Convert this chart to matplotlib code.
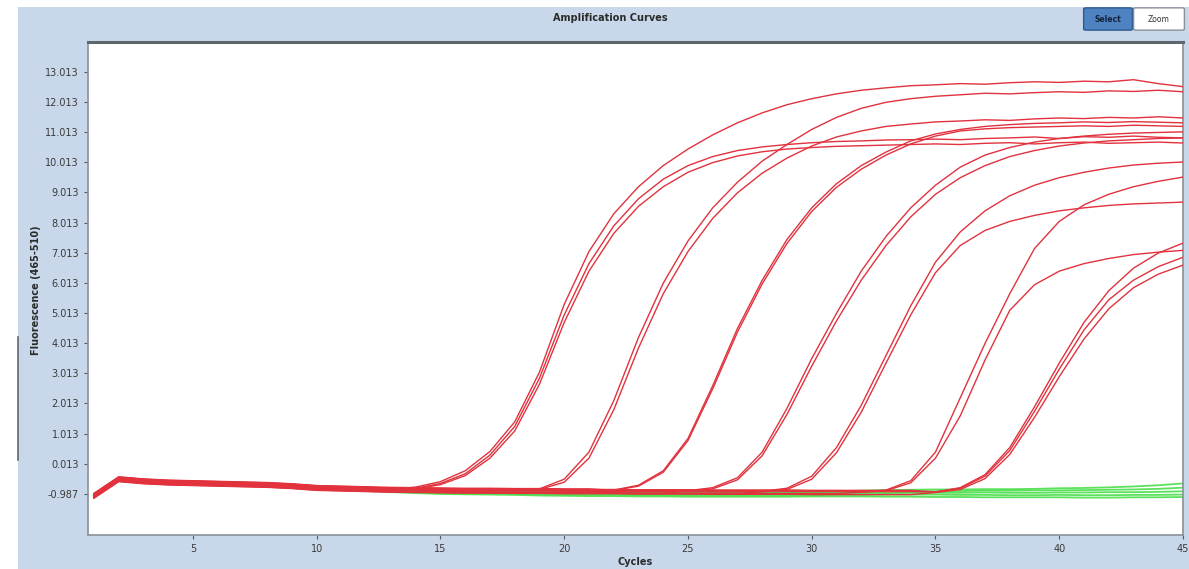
import matplotlib.pyplot as plt
import numpy as np
from matplotlib.patches import Rectangle, FancyBboxPatch
from matplotlib.lines import Line2D

cycles = np.arange(1, 46)

# shared red baseline (cycles 1..45), used before each well starts to rise
base_red = [-1.05, -0.50, -0.57, -0.61, -0.63, -0.65, -0.67, -0.69, -0.73, -0.79,
            -0.81, -0.83, -0.85, -0.86, -0.87, -0.88, -0.88, -0.89, -0.89, -0.90,
            -0.90, -0.90, -0.91, -0.91, -0.91, -0.92, -0.92, -0.92, -0.92, -0.93,
            -0.93, -0.93, -0.93, -0.93, -0.94, -0.94, -0.94, -0.94, -0.95, -0.95,
            -0.95, -0.95, -0.95, -0.96, -0.96]

# negative wells (green)
green1 = [-1.04, -0.50, -0.57, -0.61, -0.63, -0.65, -0.67, -0.70, -0.74, -0.78,
          -0.80, -0.83, -0.86, -0.88, -0.90, -0.90, -0.91, -0.92, -0.92, -0.93,
          -0.93, -0.94, -0.94, -0.95, -0.95, -0.95, -0.96, -0.95, -0.94, -0.93,
          -0.90, -0.88, -0.86, -0.85, -0.84, -0.84, -0.83, -0.83, -0.82, -0.80,
          -0.79, -0.77, -0.74, -0.70, -0.64]
green2 = [-1.05, -0.51, -0.58, -0.62, -0.64, -0.66, -0.68, -0.71, -0.75, -0.79,
          -0.81, -0.84, -0.87, -0.89, -0.91, -0.92, -0.93, -0.94, -0.95, -0.95,
          -0.96, -0.96, -0.97, -0.97, -0.97, -0.97, -0.96, -0.96, -0.95, -0.94,
          -0.93, -0.92, -0.91, -0.90, -0.90, -0.89, -0.88, -0.88, -0.87, -0.87,
          -0.86, -0.85, -0.84, -0.82, -0.78]
green3 = [-1.06, -0.52, -0.59, -0.62, -0.65, -0.67, -0.69, -0.72, -0.76, -0.80,
          -0.83, -0.86, -0.89, -0.91, -0.93, -0.94, -0.95, -0.96, -0.97, -0.98,
          -0.98, -0.99, -0.99, -1.00, -1.00, -1.00, -1.00, -0.99, -0.99, -0.98,
          -0.97, -0.96, -0.96, -0.95, -0.95, -0.95, -0.94, -0.95, -0.95, -0.94,
          -0.94, -0.93, -0.93, -0.92, -0.90]
green4 = [-1.07, -0.53, -0.60, -0.63, -0.66, -0.68, -0.70, -0.73, -0.77, -0.81,
          -0.84, -0.88, -0.91, -0.94, -0.96, -0.97, -0.98, -0.99, -1.00, -1.01,
          -1.02, -1.02, -1.03, -1.03, -1.04, -1.04, -1.04, -1.04, -1.03, -1.03,
          -1.02, -1.02, -1.01, -1.01, -1.01, -1.02, -1.02, -1.03, -1.03, -1.02,
          -1.03, -1.03, -1.02, -1.02, -1.01]
green5 = [-1.07, -0.53, -0.60, -0.64, -0.66, -0.68, -0.71, -0.74, -0.78, -0.82,
          -0.85, -0.89, -0.93, -0.96, -0.99, -1.00, -1.01, -1.02, -1.04, -1.05,
          -1.06, -1.06, -1.07, -1.07, -1.08, -1.08, -1.08, -1.08, -1.08, -1.07,
          -1.07, -1.07, -1.08, -1.08, -1.09, -1.09, -1.10, -1.10, -1.10, -1.10,
          -1.11, -1.11, -1.10, -1.10, -1.09]
green_curves = [green1, green2, green3, green4, green5]

# positive wells (red): first own cycle, then readings up to cycle 45
g1a_start = 13
g1a = [-0.84, -0.76, -0.58, -0.22, 0.42, 1.40, 3.05, 5.30, 7.05, 8.30, 9.20, 9.90, 10.45,
       10.92, 11.32, 11.65, 11.92, 12.12, 12.28, 12.40, 12.48, 12.55, 12.58, 12.62, 12.60,
       12.65, 12.68, 12.66, 12.70, 12.68, 12.75, 12.62, 12.52]
g1b_start = 13
g1b = [-0.86, -0.80, -0.64, -0.32, 0.30, 1.25, 2.85, 4.95, 6.65, 7.90, 8.80, 9.45, 9.90,
       10.20, 10.40, 10.52, 10.60, 10.66, 10.70, 10.72, 10.75, 10.76, 10.78, 10.76, 10.80,
       10.82, 10.85, 10.80, 10.86, 10.84, 10.88, 10.84, 10.82]
g1c_start = 13
g1c = [-0.87, -0.82, -0.68, -0.38, 0.20, 1.10, 2.65, 4.70, 6.40, 7.65, 8.55, 9.20, 9.68,
       10.00, 10.22, 10.36, 10.45, 10.50, 10.54, 10.56, 10.58, 10.60, 10.62, 10.60, 10.64,
       10.66, 10.62, 10.66, 10.68, 10.64, 10.66, 10.68, 10.65]
g2a_start = 19
g2a = [-0.82, -0.50, 0.40, 2.10, 4.20, 6.00, 7.40, 8.50, 9.35, 10.05, 10.60, 11.10, 11.50,
       11.80, 12.00, 12.12, 12.20, 12.25, 12.30, 12.28, 12.32, 12.35, 12.33, 12.38, 12.36,
       12.40, 12.35]
g2b_start = 19
g2b = [-0.84, -0.60, 0.20, 1.80, 3.85, 5.65, 7.05, 8.15, 9.00, 9.65, 10.15, 10.55, 10.85,
       11.05, 11.20, 11.28, 11.35, 11.38, 11.42, 11.40, 11.45, 11.48, 11.46, 11.50, 11.48,
       11.52, 11.48]
g3a_start = 22
g3a = [-0.86, -0.70, -0.22, 0.85, 2.60, 4.50, 6.10, 7.45, 8.50, 9.30, 9.90, 10.35, 10.72,
       10.95, 11.10, 11.20, 11.26, 11.30, 11.32, 11.35, 11.33, 11.36, 11.34, 11.32]
g3b_start = 22
g3b = [-0.87, -0.73, -0.27, 0.78, 2.50, 4.38, 5.98, 7.32, 8.38, 9.18, 9.78, 10.25, 10.62,
       10.88, 11.05, 11.12, 11.16, 11.18, 11.20, 11.22, 11.20, 11.24, 11.22, 11.20]
g4a_start = 25
g4a = [-0.88, -0.78, -0.45, 0.40, 1.85, 3.50, 5.00, 6.40, 7.55, 8.50, 9.25, 9.85, 10.25,
       10.50, 10.68, 10.80, 10.88, 10.94, 10.98, 11.00, 11.02]
g4b_start = 25
g4b = [-0.90, -0.82, -0.52, 0.28, 1.65, 3.25, 4.75, 6.10, 7.25, 8.20, 8.95, 9.50, 9.90,
       10.20, 10.40, 10.55, 10.65, 10.72, 10.76, 10.80, 10.82]
g5a_start = 28
g5a = [-0.90, -0.80, -0.40, 0.55, 1.95, 3.60, 5.25, 6.70, 7.70, 8.40, 8.90, 9.25, 9.50,
       9.68, 9.82, 9.92, 9.98, 10.02]
g5b_start = 28
g5b = [-0.92, -0.84, -0.50, 0.38, 1.72, 3.35, 4.95, 6.35, 7.25, 7.75, 8.05, 8.25, 8.40,
       8.50, 8.58, 8.63, 8.66, 8.69]
g6a_start = 32
g6a = [-0.92, -0.86, -0.55, 0.40, 2.20, 4.00, 5.65, 7.15, 8.05, 8.60, 8.95, 9.20, 9.38, 9.52]
g6b_start = 32
g6b = [-0.93, -0.88, -0.62, 0.20, 1.60, 3.45, 5.10, 5.95, 6.40, 6.65, 6.82, 6.95, 7.03, 7.09]
g7a_start = 35
g7a = [-0.92, -0.80, -0.40, 0.45, 1.75, 3.15, 4.45, 5.45, 6.10, 6.55, 6.86]
g7b_start = 35
g7b = [-0.94, -0.84, -0.48, 0.32, 1.55, 2.90, 4.15, 5.15, 5.85, 6.30, 6.60]
g7c_start = 35
g7c = [-0.92, -0.78, -0.35, 0.55, 1.90, 3.35, 4.70, 5.75, 6.50, 7.00, 7.33]

red_curves = [(g1a_start, g1a), (g1b_start, g1b), (g1c_start, g1c),
              (g2a_start, g2a), (g2b_start, g2b), (g3a_start, g3a), (g3b_start, g3b),
              (g4a_start, g4a), (g4b_start, g4b), (g5a_start, g5a), (g5b_start, g5b),
              (g6a_start, g6a), (g6b_start, g6b), (g7a_start, g7a), (g7b_start, g7b),
              (g7c_start, g7c)]
red_base_offset = [0.07, 0.04, -0.02, 0.06, 0.01, -0.04, 0.08, -0.06, 0.03, -0.07,
                   0.00, 0.05, -0.05, 0.02, -0.08, 0.06]

ytick_vals = [-0.987, 0.013, 1.013, 2.013, 3.013, 4.013, 5.013, 6.013, 7.013,
              8.013, 9.013, 10.013, 11.013, 12.013, 13.013]
xtick_vals = [5, 10, 15, 20, 25, 30, 35, 40, 45]

W, H = 1189, 569
fig = plt.figure(figsize=(W / 100, H / 100), dpi=100)
fig.patch.set_facecolor('white')

# light blue window panel
fig.add_artist(Rectangle((18 / W, 0), 1 - 18 / W, 1 - 7 / H, transform=fig.transFigure,
                         facecolor='#c8d8ea', edgecolor='none', zorder=-10))
fig.add_artist(Line2D([18 / W, 18 / W], [1 - 460 / H, 1 - 337 / H], transform=fig.transFigure,
                      color='#606870', lw=1.2))

ax = fig.add_axes([88 / W, 1 - 535 / H, (1183 - 88) / W, (535 - 42) / H])
ax.set_facecolor('white')

for g in green_curves:
    ax.plot(cycles, g, color='#4ade4a', lw=1.3, alpha=0.9, zorder=2)

for (start, vals), off in zip(red_curves, red_base_offset):
    y = [b + off for b in base_red[:start - 1]] + list(vals)
    ax.plot(cycles, y, color='#e1323e', lw=1.0, zorder=3)

ax.set_xlim(0.76, 45)
ax.set_ylim(-2.35, 14.0)
ax.set_xticks(xtick_vals)
ax.set_xticklabels([str(v) for v in xtick_vals])
ax.set_yticks(ytick_vals)
ax.set_yticklabels(['%.3f' % v for v in ytick_vals])
ax.tick_params(axis='both', labelsize=7, colors='#555b62', labelcolor='#3a3a3a',
               length=3, width=0.8)

for s in ['left', 'bottom', 'right']:
    ax.spines[s].set_color('#8a9098')
    ax.spines[s].set_linewidth(1.2)
ax.spines['top'].set_color('#5e666e')
ax.spines['top'].set_linewidth(2.2)

ax.set_xlabel('Cycles', fontsize=7, fontweight='bold', color='#2a2a2a', labelpad=2)
fig.text(36 / W, 1 - 290 / H, 'Fluorescence (465-510)', rotation=90, fontsize=7,
         fontweight='bold', color='#2a2a2a', ha='center', va='center')

fig.text(610 / W, 1 - 18 / H, 'Amplification Curves', fontsize=7, fontweight='bold',
         color='#2a2a2a', ha='center', va='center')

# Select / Zoom buttons
fig.add_artist(FancyBboxPatch((1086 / W, 1 - 29 / H), 44 / W, 20 / H,
                              boxstyle='round,pad=0.002', transform=fig.transFigure,
                              facecolor='#4f82c0', edgecolor='#2f5a90', lw=1))
fig.text(1108 / W, 1 - 19 / H, 'Select', fontsize=5.5, fontweight='bold', color='#12243a',
         ha='center', va='center')
fig.add_artist(FancyBboxPatch((1136 / W, 1 - 29 / H), 46 / W, 20 / H,
                              boxstyle='round,pad=0.002', transform=fig.transFigure,
                              facecolor='white', edgecolor='#8a9098', lw=1))
fig.text(1159 / W, 1 - 19 / H, 'Zoom', fontsize=5.5, color='#333333',
         ha='center', va='center')

fig.savefig('out.png', dpi=100)
